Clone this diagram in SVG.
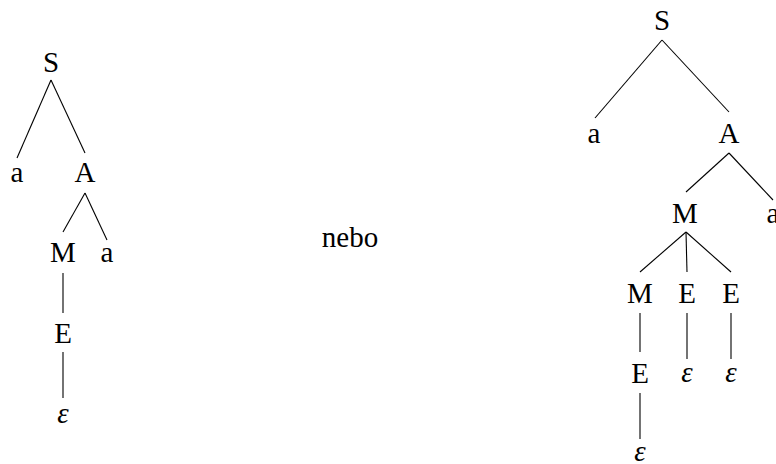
<svg xmlns="http://www.w3.org/2000/svg" width="776" height="464" viewBox="0 0 776 464">
<style>
text{font-family:"Liberation Serif","DejaVu Serif","Noto Serif",serif;font-size:29px;fill:#000;text-anchor:middle}
.eps{font-style:italic}
.edges line{stroke:#000;stroke-width:1.1;fill:none}
</style>
<rect width="776" height="464" fill="#fff"/>
<g class="edges" id="connectors">
<line x1="51" y1="80" x2="17" y2="158"/>
<line x1="51" y1="80" x2="85" y2="153"/>
<line x1="85" y1="193" x2="63" y2="232"/>
<line x1="85" y1="193" x2="107" y2="240"/>
<line x1="63" y1="273" x2="63" y2="313"/>
<line x1="63" y1="352" x2="63" y2="398"/>
<line x1="662" y1="40" x2="595" y2="118"/>
<line x1="662" y1="40" x2="729" y2="112"/>
<line x1="729" y1="153" x2="686" y2="192"/>
<line x1="729" y1="153" x2="773" y2="200"/>
<line x1="686" y1="232" x2="640" y2="272"/>
<line x1="686" y1="232" x2="687" y2="272"/>
<line x1="686" y1="232" x2="731" y2="272"/>
<line x1="640" y1="313" x2="640" y2="352"/>
<line x1="687" y1="313" x2="687" y2="359"/>
<line x1="731" y1="313" x2="731" y2="359"/>
<line x1="640" y1="393" x2="640" y2="439"/>
</g>
<g id="L_S"><text x="51" y="72">S</text></g>
<g id="L_a1"><text x="17" y="182">a</text></g>
<g id="L_A"><text x="85" y="182">A</text></g>
<g id="L_M"><text x="63" y="262">M</text></g>
<g id="L_a2"><text x="107" y="262">a</text></g>
<g id="L_E"><text x="63" y="343">E</text></g>
<g id="L_eps"><text class="eps" x="63" y="423">ε</text></g>
<g id="nebo"><text x="350" y="247">nebo</text></g>
<g id="R_S"><text x="662" y="30">S</text></g>
<g id="R_a1"><text x="594" y="143">a</text></g>
<g id="R_A"><text x="729" y="143">A</text></g>
<g id="R_M"><text x="685" y="223">M</text></g>
<g id="R_a2"><text x="773" y="223">a</text></g>
<g id="R_M2"><text x="640" y="303">M</text></g>
<g id="R_E1"><text x="687" y="303">E</text></g>
<g id="R_E2"><text x="731" y="303">E</text></g>
<g id="R_E3"><text x="640" y="383">E</text></g>
<g id="R_eps1"><text class="eps" x="687" y="382">ε</text></g>
<g id="R_eps2"><text class="eps" x="731" y="382">ε</text></g>
<g id="R_eps3"><text class="eps" x="640" y="461">ε</text></g>
</svg>
